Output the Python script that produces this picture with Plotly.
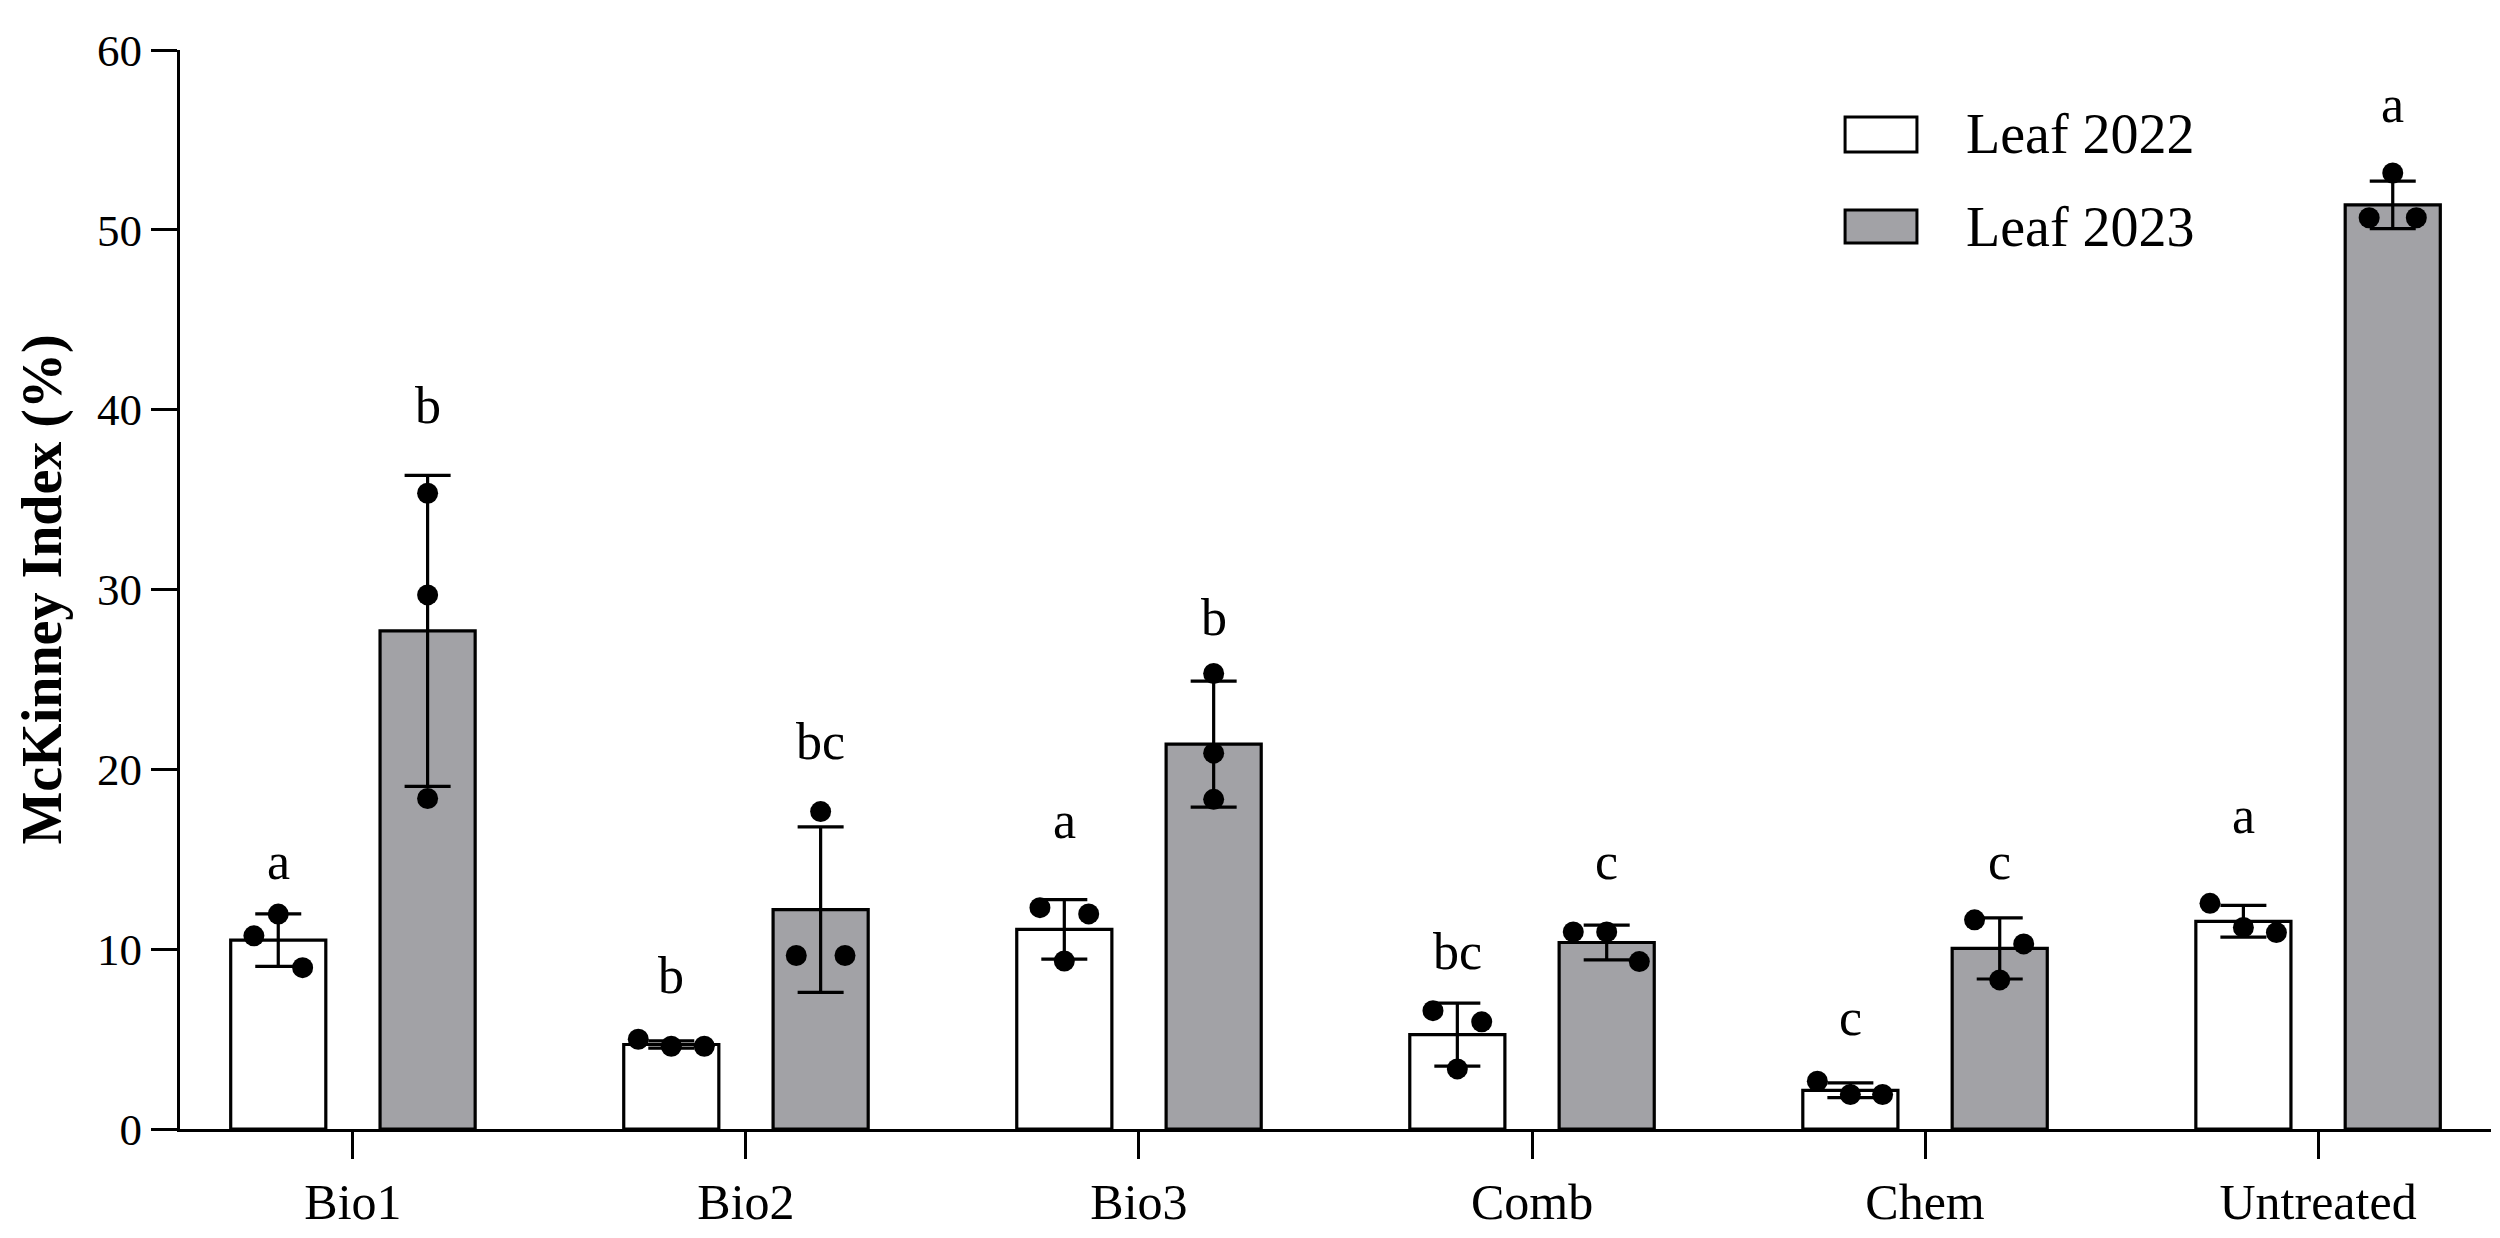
import plotly.graph_objects as go

treatments = ["Bio1", "Bio2", "Bio3", "Comb", "Chem", "Untreated"]
series_names = ["Leaf 2022", "Leaf 2023"]

mean_2022 = [10.5, 4.7, 11.1, 5.25, 2.15, 11.55]
sd_2022 = [1.46, 0.2, 1.65, 1.75, 0.41, 0.88]
mean_2023 = [27.7, 12.2, 21.4, 10.37, 10.04, 51.39]
sd_2023 = [8.65, 4.6, 3.5, 0.97, 1.7, 1.32]

# replicate values (three plots per treatment)
reps_2022 = [[11.95, 10.74, 8.97], [4.99, 4.6, 4.6], [12.31, 11.96, 9.34],
             [6.58, 5.96, 3.34], [2.66, 1.92, 1.92], [12.55, 11.21, 10.92]]
reps_2023 = [[35.35, 29.7, 18.38], [17.65, 9.65, 9.65], [25.33, 20.9, 18.33],
             [10.96, 10.96, 9.31], [11.63, 10.29, 8.29], [53.16, 50.67, 50.67]]

letters_2022 = ["a", "b", "a", "bc", "c", "a"]
letters_2023 = ["b", "bc", "b", "c", "c", "a"]
letter_y_2022 = [13.85, 7.5, 16.1, 8.83, 5.17, 16.4]
letter_y_2023 = [39.2, 20.5, 27.4, 13.85, 13.85, 55.95]

# horizontal spread of the dots inside a bar, in category units
jitter_2022 = [[0, -0.062, 0.062], [-0.084, 0, 0.084], [-0.062, 0.062, 0],
               [-0.062, 0.062, 0], [-0.084, 0, 0.082], [-0.085, 0, 0.084]]
jitter_2023 = [[0, 0, 0], [0, -0.062, 0.062], [0, 0, 0],
               [-0.085, 0, 0.083], [-0.064, 0.061, 0], [0, -0.06, 0.06]]

FONT = "Liberation Serif"
GRAY = "#a2a2a6"
half = 0.19   # distance of bar centre from the category tick
bw = 0.242    # bar width

xs = list(range(len(treatments)))
fig = go.Figure()

series = [
    (mean_2022, sd_2022, reps_2022, jitter_2022, "white", -half),
    (mean_2023, sd_2023, reps_2023, jitter_2023, GRAY, half),
]
for (means, sds, reps, jit, color, shift), name in zip(series, series_names):
    fig.add_trace(go.Bar(
        x=xs, y=means, name=name, width=bw, offset=shift - bw / 2,
        marker=dict(color=color, line=dict(color="black", width=3.2)),
        error_y=dict(type="data", array=sds, color="black", thickness=3.2, width=23),
    ))
    px, py = [], []
    for i, vals in enumerate(reps):
        for v, j in zip(vals, jit[i]):
            px.append(i + shift + j)
            py.append(v)
    fig.add_trace(go.Scatter(
        x=px, y=py, mode="markers", showlegend=False,
        marker=dict(color="black", size=21, line=dict(width=0)),
    ))

for letters, ly, shift in [(letters_2022, letter_y_2022, -half), (letters_2023, letter_y_2023, half)]:
    for i, (t, y) in enumerate(zip(letters, ly)):
        fig.add_annotation(x=i + shift, y=y, text=t, showarrow=False,
                           xanchor="center", yanchor="bottom", yshift=-12,
                           font=dict(family=FONT, size=52, color="black"))

# hand drawn legend (large rectangles like the original)
leg_boxes = [(0.9055, 0.9379, "white"), (0.8211, 0.8517, GRAY)]
for (y0, y1, col), name in zip(leg_boxes, series_names):
    fig.add_shape(type="rect", xref="paper", yref="paper", x0=0.7205, x1=0.7516,
                  y0=y0, y1=y1, fillcolor=col, line=dict(color="black", width=3))
    fig.add_annotation(xref="paper", yref="paper", x=0.772, y=(y0 + y1) / 2,
                       text=name, showarrow=False, xanchor="left", yanchor="middle",
                       font=dict(family=FONT, size=56, color="black"))

fig.update_layout(
    width=2500, height=1238,
    margin=dict(l=172, r=17, t=42, b=117),
    plot_bgcolor="white", paper_bgcolor="white",
    showlegend=False, barmode="overlay",
    font=dict(family=FONT, color="black"),
)
fig.update_xaxes(
    range=[-0.44, 5.44], tickvals=xs, ticktext=treatments,
    ticks="outside", ticklen=27, tickwidth=3.2, tickcolor="black",
    showline=True, linewidth=3.2, linecolor="black",
    showgrid=False, zeroline=False,
    tickfont=dict(family=FONT, size=50, color="black"),
)
fig.update_yaxes(
    range=[0, 60], tickvals=[0, 10, 20, 30, 40, 50, 60],
    ticks="outside", ticklen=26, tickwidth=3.2, tickcolor="black",
    showline=True, linewidth=3.2, linecolor="black",
    showgrid=False, zeroline=False,
    tickfont=dict(family=FONT, size=45, color="black"),
    title=dict(text="<b>McKinney Index (%)</b>", standoff=18,
               font=dict(family=FONT, size=56, color="black")),
)

fig.write_html("out.html")
